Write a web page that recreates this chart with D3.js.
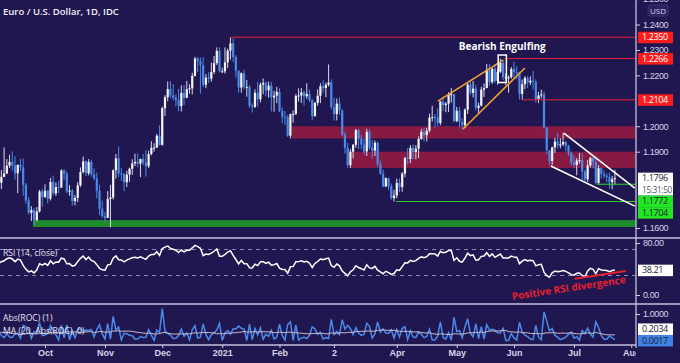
<!DOCTYPE html>
<html lang="en">
<head>
<meta charset="UTF-8">
<title>Euro / U.S. Dollar, 1D</title>
<script src="https://d3js.org/d3.v7.min.js"></script>
<style>
  html, body { margin: 0; padding: 0; background: #201750; }
  svg { display: block; font-family: "Open Sans", "Noto Sans", sans-serif; }
  .axis path { display: none; }
  .axis line { stroke: #cfcde3; }
  .axis text { fill: #d6d4e8; font-size: 9px; letter-spacing: -0.4px; }
  .xaxis text { font-size: 9px; font-weight: 600; letter-spacing: 0; }
</style>
</head>
<body>
<svg width="680" height="363"></svg>
<script>
// closes before the first visible bar (Aug 10 - Sep 7 2020), only used to warm up RSI / ROC
const priorCloses = [1.1738,1.1739,1.1785,1.1814,1.1843,1.1870,1.1932,1.1837,1.1880,1.1794,1.1795,
  1.1835,1.1832,1.1819,1.1903,1.1936,1.1914,1.1855,1.1850,1.1837,1.1816];

// daily bars, Sep 8 2020 -> Jul 22 2021 (open = previous close)
const closes = [
  1.1778,1.1801,1.1814,1.1845,1.1860,1.1846,1.1815,1.1848,1.1838,1.1770,1.1708,1.1660,1.1670,1.1631,1.1665,1.1744,1.1722,
  1.1746,1.1715,1.1781,1.1736,1.1761,1.1759,1.1826,1.1814,1.1744,1.1747,1.1706,1.1718,1.1768,1.1820,1.1862,1.1815,1.1860,1.1811,1.1795,1.1746,1.1676,1.1647,
  1.1640,1.1714,1.1720,1.1827,1.1874,1.1814,1.1812,1.1780,1.1810,1.1833,1.1854,1.1860,1.1853,1.1871,1.1857,1.1843,1.1891,1.1915,1.1916,1.1963,1.1927,
  1.2071,1.2114,1.2146,1.2121,1.2112,1.2102,1.2079,1.2131,1.2112,1.2146,1.2149,1.2198,1.2266,1.2255,1.2240,1.2163,1.2191,1.2187,1.2213,1.2248,1.2296,1.2216,1.2216,
  1.2251,1.2297,1.2326,1.2272,1.2219,1.2152,1.2208,1.2155,1.2155,1.2080,1.2076,1.2131,1.2106,1.2164,1.2170,1.2141,1.2160,1.2113,1.2120,1.2135,
  1.2060,1.2037,1.2035,1.1963,1.2047,1.2048,1.2119,1.2121,1.2133,1.2118,1.2127,1.2103,1.2040,1.2092,1.2120,1.2157,1.2150,1.2163,1.2172,1.2075,
  1.2048,1.2089,1.2062,1.1967,1.1915,1.1847,1.1900,1.1927,1.1985,1.1951,1.1928,1.1901,1.1978,1.1915,1.1904,1.1935,1.1851,1.1814,1.1763,1.1796,1.1764,1.1717,1.1728,
  1.1777,1.1761,1.1814,1.1875,1.1871,1.1915,1.1899,1.1912,1.1950,1.1978,1.1965,1.1983,1.2034,1.2036,1.2034,1.2013,1.2097,1.2083,1.2089,1.2125,1.2126,1.2020,
  1.2061,1.2016,1.2004,1.2065,1.2164,1.2131,1.2148,1.2072,1.2081,1.2144,1.2150,1.2222,1.2174,1.2226,1.2178,1.2214,1.2249,1.2193,1.2193,1.2193,1.2225,
  1.2213,1.2211,1.2127,1.2165,1.2190,1.2172,1.2179,1.2175,1.2106,1.2121,1.2125,1.1995,1.1906,1.1863,1.1917,1.1940,1.1925,1.1929,1.1938,1.1923,1.1895,1.1858,
  1.1848,1.1865,1.1867,1.1822,1.1791,1.1846,1.1875,1.1860,1.1777,1.1835,1.1812,1.1806,1.1800,1.1780,1.1792,1.1796];
const highs = [
  1.1837,1.1828,1.1917,1.1871,1.1888,1.1901,1.1882,1.1850,1.1872,1.1873,1.1777,1.1722,1.1686,1.1678,1.1682,1.1750,1.1754,
  1.1772,1.1749,1.1797,1.1806,1.1779,1.1786,1.1831,1.1831,1.1823,1.1769,1.1753,1.1730,1.1780,1.1838,1.1881,1.1866,1.1871,1.1868,1.1834,1.1818,1.1770,1.1708,
  1.1663,1.1745,1.1770,1.1830,1.1891,1.1920,1.1837,1.1815,1.1825,1.1837,1.1870,1.1892,1.1894,1.1873,1.1891,1.1906,1.1904,1.1941,1.1933,1.1970,1.2004,
  1.2077,1.2122,1.2176,1.2177,1.2166,1.2125,1.2147,1.2161,1.2162,1.2178,1.2165,1.2210,1.2273,1.2272,1.2270,1.2271,1.2205,1.2212,1.2250,1.2276,1.2310,1.2310,1.2230,
  1.2310,1.2305,1.2349,1.2345,1.2280,1.2219,1.2212,1.2222,1.2182,1.2162,1.2090,1.2145,1.2175,1.2172,1.2188,1.2177,1.2176,1.2174,1.2139,1.2155,
  1.2149,1.2074,1.2060,1.2044,1.2050,1.2062,1.2127,1.2149,1.2150,1.2140,1.2169,1.2144,1.2108,1.2095,1.2145,1.2169,1.2181,1.2172,1.2243,1.2184,
  1.2113,1.2109,1.2113,1.2067,1.1977,1.1935,1.1911,1.1930,1.1990,1.1990,1.1966,1.1952,1.1990,1.1989,1.1946,1.1944,1.1940,1.1866,1.1829,1.1799,1.1798,1.1775,1.1750,
  1.1794,1.1794,1.1820,1.1880,1.1914,1.1926,1.1928,1.1926,1.1960,1.1990,1.1994,1.1994,1.2049,1.2080,1.2048,1.2070,1.2100,1.2117,1.2095,1.2134,1.2150,1.2127,
  1.2076,1.2076,1.2032,1.2070,1.2172,1.2181,1.2178,1.2163,1.2093,1.2155,1.2168,1.2245,1.2244,1.2230,1.2244,1.2227,1.2266,1.2262,1.2208,1.2200,1.2233,
  1.2254,1.2236,1.2214,1.2184,1.2197,1.2197,1.2196,1.2217,1.2185,1.2135,1.2144,1.2137,1.1996,1.1907,1.1920,1.1955,1.1974,1.1953,1.1975,1.1942,1.1927,1.1900,
  1.1885,1.1875,1.1895,1.1895,1.1830,1.1868,1.1880,1.1880,1.1871,1.1848,1.1839,1.1827,1.1815,1.1817,1.1805,1.1829];
const lows = [
  1.1765,1.1753,1.1800,1.1812,1.1836,1.1826,1.1790,1.1737,1.1824,1.1727,1.1695,1.1653,1.1627,1.1612,1.1626,1.1661,1.1683,
  1.1718,1.1696,1.1708,1.1729,1.1726,1.1737,1.1758,1.1787,1.1737,1.1727,1.1688,1.1689,1.1702,1.1761,1.1815,1.1803,1.1807,1.1802,1.1788,1.1717,1.1650,1.1640,
  1.1622,1.1639,1.1603,1.1712,1.1794,1.1800,1.1784,1.1745,1.1761,1.1782,1.1809,1.1843,1.1839,1.1800,1.1847,1.1802,1.1836,1.1886,1.1900,1.1915,1.1924,
  1.1924,1.2040,1.2098,1.2110,1.2102,1.2079,1.2059,1.2058,1.2083,1.2110,1.2128,1.2125,1.2195,1.2213,1.2128,1.2154,1.2150,1.2170,1.2175,1.2205,1.2241,1.2211,1.2210,
  1.2207,1.2229,1.2262,1.2253,1.2192,1.2132,1.2132,1.2146,1.2116,1.2072,1.2054,1.2072,1.2077,1.2094,1.2126,1.2118,1.2113,1.2058,1.2057,1.2091,
  1.2055,1.2012,1.2005,1.1958,1.1952,1.2014,1.2044,1.2097,1.2092,1.2082,1.2108,1.2096,1.2023,1.2037,1.2081,1.2091,1.2132,1.2114,1.2156,1.2066,
  1.2022,1.2023,1.2045,1.1961,1.1893,1.1836,1.1836,1.1874,1.1915,1.1910,1.1910,1.1887,1.1883,1.1907,1.1874,1.1883,1.1842,1.1809,1.1761,1.1761,1.1750,1.1712,1.1704,
  1.1717,1.1741,1.1742,1.1800,1.1850,1.1855,1.1870,1.1870,1.1875,1.1947,1.1940,1.1940,1.1976,1.2018,1.1995,1.2000,1.2004,1.2060,1.2055,1.2056,1.2093,1.2016,
  1.2016,1.1995,1.1986,1.1994,1.2048,1.2123,1.2114,1.2062,1.2052,1.2078,1.2115,1.2150,1.2160,1.2166,1.2170,1.2163,1.2209,1.2181,1.2162,1.2132,1.2187,
  1.2192,1.2185,1.2105,1.2104,1.2146,1.2151,1.2162,1.2144,1.2093,1.2091,1.2110,1.1990,1.1891,1.1847,1.1848,1.1895,1.1913,1.1913,1.1922,1.1902,1.1883,1.1846,
  1.1837,1.1807,1.1853,1.1782,1.1782,1.1781,1.1837,1.1835,1.1772,1.1773,1.1795,1.1795,1.1780,1.1755,1.1752,1.1771];

// x axis: bar index of the first bar of each month
const monthLabels = ["Oct", "Nov", "Dec", "2021", "Feb", "2", "Apr", "May", "Jun", "Jul", "Aug"];
const monthBars = [17, 39, 60, 82, 103, 123, 146, 168, 189, 211, 232];
const priceTicks = [1.16, 1.17, 1.18, 1.19, 1.20, 1.21, 1.22, 1.23, 1.24, 1.25];
const rsiTicks = [0, 80];
const rocTicks = [1];

// drawn levels (price, bar where they start)
const redLevels = [1.2350, 1.2266, 1.2104];
const redLevelFrom = [85, 185.5, 192];
const redZoneTop = [1.2000, 1.1900];
const redZoneBottom = [1.1952, 1.1836];
const redZoneFrom = [107.5, 128.8];
const greenZone = [1.1631, 1.1604];
const greenZoneFrom = 12.6;
const greenLevels = [1.1772, 1.1704];
const greenLevelFrom = [219.4, 145.8];
const risingWedge = [[[161.1, 1.2099], [185, 1.2260]], [[170.3, 1.1989], [193, 1.2229]]];
const fallingWedge = [[[207.3, 1.1973], [233.3, 1.1757]], [[202.5, 1.1844], [233.3, 1.1686]]];
const engulfBars = [183.2, 186.2];
const engulfPrices = [1.2280, 1.2172];
const divergenceLine = [[211.3, 25], [230, 37]];

// price tags on the right scale
const mainTagValues = [1.2350, 1.2266, 1.2104, 1.1796, 1.1772, 1.1704];
const mainTagTexts = [["1.2350"], ["1.2266"], ["1.2104"], ["1.1796", "15:31:50"], ["1.1772"], ["1.1704"]];
const rsiTag = [38.21, "38.21"];
const rocTagValues = [0.0017, 0.2034];
const rocTagTexts = ["0.0017", "0.2034"];

const W = 680, H = 363, R = 636;
const svg = d3.select("svg");
svg.append("rect").attr("width", W).attr("height", H).attr("fill", "#201750");

const x = d3.scaleLinear().domain([17, 211]).range([45, 574]);
const yP = d3.scaleLinear().domain([1.16, 1.24]).range([228, 24.5]);
const yR = d3.scaleLinear().domain([0, 80]).range([295, 243]);
const yC = d3.scaleLinear().domain([0, 1]).range([340.5, 314]);

const defs = svg.append("defs");
[["cMain", 0, 238], ["cRsi", 238, 304], ["cRoc", 304, 345], ["cX", 345, 363]].forEach(([id, y0, y1]) => {
  defs.append("clipPath").attr("id", id).append("rect")
    .attr("x", 0).attr("y", y0).attr("width", R).attr("height", y1 - y0);
});

const bars = closes.map((c, i) => ({
  i, c, h: highs[i], l: lows[i],
  o: i ? closes[i - 1] : priorCloses[priorCloses.length - 1]
}));

// ---------- main panel ----------
const main = svg.append("g").attr("clip-path", "url(#cMain)");

main.selectAll(".zone").data(redZoneTop).enter().append("rect")
  .attr("x", (d, k) => x(redZoneFrom[k])).attr("width", (d, k) => R - x(redZoneFrom[k]))
  .attr("y", d => yP(d)).attr("height", (d, k) => yP(redZoneBottom[k]) - yP(d))
  .attr("fill", "#861a42");
main.append("rect")
  .attr("x", x(greenZoneFrom)).attr("width", R - x(greenZoneFrom))
  .attr("y", yP(greenZone[0])).attr("height", yP(greenZone[1]) - yP(greenZone[0]))
  .attr("fill", "#1f8c2c");

const upCol = "#f4f4fa", dnCol = "#4a8ae8";
main.selectAll(".wick").data(bars).enter().append("line")
  .attr("x1", d => x(d.i)).attr("x2", d => x(d.i))
  .attr("y1", d => yP(d.h)).attr("y2", d => yP(d.l))
  .attr("stroke", d => d.c >= d.o ? "#d8d8ea" : dnCol).attr("stroke-width", 1);
main.selectAll(".body").data(bars).enter().append("rect")
  .attr("x", d => x(d.i) - 1.1).attr("width", 2.2)
  .attr("y", d => yP(Math.max(d.o, d.c)))
  .attr("height", d => Math.max(1, Math.abs(yP(d.o) - yP(d.c))))
  .attr("fill", d => d.c >= d.o ? upCol : dnCol);

main.selectAll(".rl").data(redLevels).enter().append("line")
  .attr("x1", (d, k) => x(redLevelFrom[k])).attr("x2", R)
  .attr("y1", d => yP(d)).attr("y2", d => yP(d))
  .attr("stroke", "#e8203a").attr("stroke-width", 1);
main.selectAll(".gl").data(greenLevels).enter().append("line")
  .attr("x1", (d, k) => x(greenLevelFrom[k])).attr("x2", R)
  .attr("y1", d => yP(d)).attr("y2", d => yP(d))
  .attr("stroke", "#2ad52a").attr("stroke-width", 1);

const seg = d3.line().x(d => x(d[0])).y(d => yP(d[1]));
risingWedge.forEach(s => main.append("path").attr("d", seg(s))
  .attr("stroke", "#f4a42a").attr("stroke-width", 1.6).attr("fill", "none"));
fallingWedge.forEach(s => main.append("path").attr("d", seg(s))
  .attr("stroke", "#ffffff").attr("stroke-width", 1.6).attr("fill", "none"));

main.append("rect")
  .attr("x", x(engulfBars[0])).attr("width", x(engulfBars[1]) - x(engulfBars[0]))
  .attr("y", yP(engulfPrices[0])).attr("height", yP(engulfPrices[1]) - yP(engulfPrices[0]))
  .attr("fill", "none").attr("stroke", "#ffffff").attr("stroke-width", 1.5);
main.append("text").attr("x", (x(engulfBars[0]) + x(engulfBars[1])) / 2).attr("y", 49.5)
  .attr("text-anchor", "middle").attr("fill", "#ffffff")
  .attr("font-size", 10).attr("font-weight", 700).text("Bearish Engulfing");

svg.append("text").attr("x", 3).attr("y", 14.5).attr("fill", "#f2f2f8")
  .attr("font-size", 9.5).attr("font-weight", 600).text("Euro / U.S. Dollar, 1D, IDC");

// ---------- indicators ----------
const all = priorCloses.concat(closes);
const off = priorCloses.length;
const n = 14;
let ag = 0, al = 0;
const rsiAll = [];
for (let k = 1; k < all.length; k++) {
  const ch = all[k] - all[k - 1];
  const g = Math.max(ch, 0), l = Math.max(-ch, 0);
  if (k <= n) { ag += g / n; al += l / n; }
  else { ag = (ag * (n - 1) + g) / n; al = (al * (n - 1) + l) / n; }
  if (k >= n) rsiAll[k] = al === 0 ? 100 : 100 - 100 / (1 + ag / al);
}
const rocAll = all.map((c, k) => k ? Math.abs(c / all[k - 1] - 1) * 100 : null);
const rsi = closes.map((c, i) => ({ i, v: rsiAll[i + off] }));
const roc = closes.map((c, i) => ({ i, v: rocAll[i + off] }));
const rocMa = closes.map((c, i) => ({ i, v: d3.mean(rocAll.slice(i + off - 19, i + off + 1)) }));

const rsiG = svg.append("g").attr("clip-path", "url(#cRsi)");
[70, 30].forEach(v => rsiG.append("line").attr("x1", 0).attr("x2", R)
  .attr("y1", yR(v)).attr("y2", yR(v))
  .attr("stroke", "#8c88b4").attr("stroke-dasharray", "4,4").attr("stroke-width", 1));
rsiG.append("path").datum(rsi)
  .attr("d", d3.line().x(d => x(d.i)).y(d => yR(d.v)))
  .attr("fill", "none").attr("stroke", "#ffffff").attr("stroke-width", 1.5);
rsiG.append("path").datum(divergenceLine)
  .attr("d", d3.line().x(d => x(d[0])).y(d => yR(d[1])))
  .attr("stroke", "#e8202e").attr("stroke-width", 2).attr("fill", "none");
rsiG.append("text").attr("transform", "translate(626,283) rotate(-8.5)")
  .attr("text-anchor", "end").attr("fill", "#e8202e")
  .attr("font-size", 10).attr("font-weight", 700).text("Positive RSI divergence");
svg.append("text").attr("x", 3).attr("y", 256).attr("fill", "#e4e2f0")
  .attr("font-size", 8.6).text("RSI (14, close)");

const rocG = svg.append("g").attr("clip-path", "url(#cRoc)");
rocG.append("path").datum(roc)
  .attr("d", d3.line().x(d => x(d.i)).y(d => yC(d.v)))
  .attr("fill", "none").attr("stroke", "#4a8ae8").attr("stroke-width", 1.5);
rocG.append("path").datum(rocMa)
  .attr("d", d3.line().x(d => x(d.i)).y(d => yC(d.v)))
  .attr("fill", "none").attr("stroke", "#cdbccc").attr("stroke-width", 1);
svg.append("text").attr("x", 3).attr("y", 321).attr("fill", "#e4e2f0")
  .attr("font-size", 8.6).text("Abs(ROC) (1)");
svg.append("text").attr("x", 3).attr("y", 334).attr("fill", "#e4e2f0")
  .attr("font-size", 8.6).text("MA (20, Abs(ROC), 0)");

// ---------- frame ----------
const frame = "#c4c0e0";
[238, 304].forEach(y => svg.append("line").attr("x1", 0).attr("x2", W)
  .attr("y1", y).attr("y2", y).attr("stroke", frame).attr("stroke-width", 1.3));
svg.append("line").attr("x1", 0).attr("x2", R).attr("y1", 345).attr("y2", 345)
  .attr("stroke", frame).attr("stroke-width", 1.3);
svg.append("line").attr("x1", R).attr("x2", R).attr("y1", 0).attr("y2", 348)
  .attr("stroke", frame).attr("stroke-width", 1.3);

// x axis
const xa = svg.append("g").attr("clip-path", "url(#cX)");
xa.append("g").attr("class", "axis xaxis").attr("transform", "translate(0,345)")
  .call(d3.axisBottom(x).tickValues(monthBars).tickSize(3).tickPadding(2)
    .tickFormat((d, k) => monthLabels[k]));

// price tags decide which plain tick labels are hidden behind them
const lineH = 11.5;
const tagBoxes = [];
let bottom = -1e9;
mainTagValues.forEach((v, k) => {
  const top = Math.max(yP(v) - 5.5, bottom);
  bottom = top + lineH * mainTagTexts[k].length;
  tagBoxes.push([top, bottom]);
});
const hidden = y => tagBoxes.some(([t, b]) => y > t - 2 && y < b + 2);

svg.append("g").attr("class", "axis").attr("transform", `translate(${R},0)`)
  .call(d3.axisRight(yP).tickValues(priceTicks.filter(v => !hidden(yP(v))))
    .tickSize(4).tickPadding(3).tickFormat(d3.format(".4f")));
svg.append("g").attr("class", "axis").attr("transform", `translate(${R},0)`)
  .call(d3.axisRight(yR).tickValues(rsiTicks).tickSize(4).tickPadding(3).tickFormat(d3.format(".2f")));
svg.append("g").attr("class", "axis").attr("transform", `translate(${R},0)`)
  .call(d3.axisRight(yC).tickValues(rocTicks).tickSize(4).tickPadding(3).tickFormat(d3.format(".4f")));

svg.append("rect").attr("x", 648).attr("y", 5).attr("width", 20).attr("height", 11)
  .attr("fill", "#2a2360").attr("stroke", "#3a3470").attr("rx", 2);
svg.append("text").attr("x", 658).attr("y", 13.5).attr("text-anchor", "middle")
  .attr("fill", "#d6d4e8").attr("font-size", 8).text("USD");

function tag(top, lines, bg, fg, fg2) {
  const h = lineH * lines.length;
  svg.append("rect").attr("x", 638).attr("y", top).attr("width", 35).attr("height", h).attr("fill", bg);
  lines.forEach((t, k) => svg.append("text").attr("x", 642).attr("y", top + 8.6 + lineH * k)
    .attr("fill", k ? fg2 : fg).attr("font-size", k ? 8.4 : 9).attr("letter-spacing", -0.4).text(t));
}
const tagBg = v => v > 1.2 ? "#ff1c1c" : (v > 1.178 ? "#ffffff" : "#22e622");
const tagFg = v => v > 1.2 ? "#ffffff" : "#1c1a34";
mainTagValues.forEach((v, k) => tag(tagBoxes[k][0], mainTagTexts[k], tagBg(v), tagFg(v), "#555566"));
tag(yR(rsiTag[0]) - 5.5, [rsiTag[1]], "#ffffff", "#1c1a34");
const lowTop = yC(rocTagValues[0]) - 5.5;
tag(lowTop, [rocTagTexts[0]], "#3f82e4", "#1c1a34");
tag(Math.min(yC(rocTagValues[1]) - 5.5, lowTop - lineH), [rocTagTexts[1]], "#ffffff", "#1c1a34");
</script>
</body>
</html>
